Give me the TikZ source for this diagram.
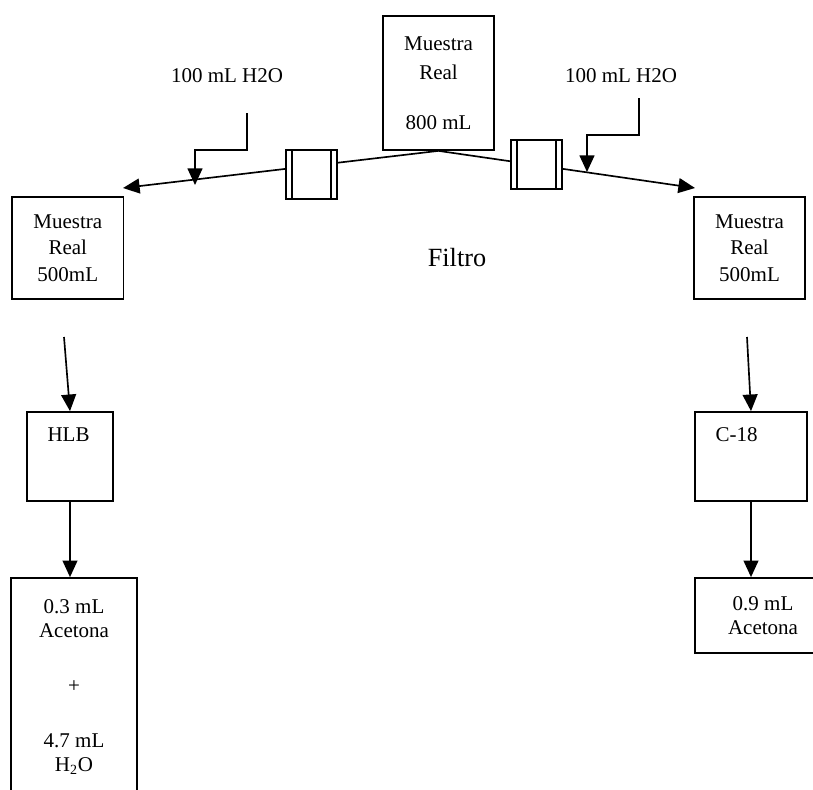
\documentclass[tikz,border=0pt]{standalone}
\usepackage{fontspec}
\setmainfont{Liberation Serif}
\usetikzlibrary{arrows.meta}
\tikzset{
  box/.style={draw, line width=0.95pt, align=center, inner sep=0pt, font=\fontsize{12}{15}\selectfont},
  ksample/.style={box, minimum width=63.5pt, minimum height=58.3pt},
  kfilter/.style={box, fill=white, minimum width=29.1pt, minimum height=28pt},
  kcartridge/.style={box, minimum height=50.9pt},
  keluate/.style={box, font=\fontsize{12}{13.7}\selectfont},
  klabel/.style={anchor=north west, inner sep=0pt, xshift=12pt, yshift=-9.3pt, font=\fontsize{12}{14}\selectfont},
  ktext/.style={inner sep=0pt, font=\fontsize{12}{14}\selectfont},
  flow/.style={-{Triangle[length=9.5pt, width=8.5pt]}, line width=0.95pt},
}

\begin{document}
\begin{tikzpicture}[x=0.5714pt, y=-0.5714pt]
    \clip (0,0) rectangle (813,789);
    \node[box, minimum width=63.4pt, minimum height=76.6pt, font=\fontsize{12}{16.5}\selectfont] (real800) at (438.5,83) {Muestra\\Real\\[12pt]800 mL};
    \node[ktext] (aguaL) at (227,76) {100 mL H2O};
    \node[ktext] (aguaR) at (621,76) {100 mL H2O};
    \node[ksample] (realL) at (67.8,248) {Muestra\\Real\\500mL};
    \node[ksample] (realR) at (749.5,248) {Muestra\\Real\\500mL};
    \node[ktext, font=\fontsize{15}{18}\selectfont] (filtro) at (457,258) {Filtro};
    \coordinate (inL) at (123,188);
    \coordinate (inR) at (695,188);
    \draw[flow] (real800.south) -- (inL);
    \draw[flow] (real800.south) -- (inR);
    \node[kfilter] (filtroL) at (311.5,174.5) {};
    \node[kfilter] (filtroR) at (536.5,164.5) {};
    \foreach \f in {filtroL, filtroR}
      \draw[line width=0.95pt] ([xshift=4pt]\f.north west) -- ([xshift=4pt]\f.south west)
        ([xshift=-4pt]\f.north east) -- ([xshift=-4pt]\f.south east);
    % water added before the samples
    \coordinate (aguaLs) at (247,113);
    \coordinate (aguaRs) at (639,98);
    \draw[flow] (aguaLs) -- (247,150) -- (195,150) -- (195,185);
    \draw[flow] (aguaRs) -- (639,135) -- (587,135) -- (587,172);
    \node[kcartridge, minimum width=49.1pt, label={[klabel]north west:HLB}] (hlb) at (70,456.5) {};
    \node[kcartridge, minimum width=64pt, label={[klabel]north west:C-18}] (c18) at (751,456.5) {};
    \node[keluate, minimum width=72pt, minimum height=124.6pt] (eluL) at (74,687) {0.3 mL\\Acetona\\[17.7pt]+\\[17.7pt]4.7 mL\\H\textsubscript{2}O};
    \node[keluate, minimum width=77.7pt, minimum height=42.9pt] (eluR) at (763,615.5) {0.9 mL\\Acetona};
    \coordinate (sL) at (64,337);
    \coordinate (sR) at (747,337);
    \draw[flow] (sL) -- (hlb.north);
    \draw[flow] (sR) -- (c18.north);
    \draw[flow] (hlb.south) -- (hlb.south |- eluL.north);
    \draw[flow] (c18.south) -- (c18.south |- eluR.north);
  \end{tikzpicture}
\end{document}
